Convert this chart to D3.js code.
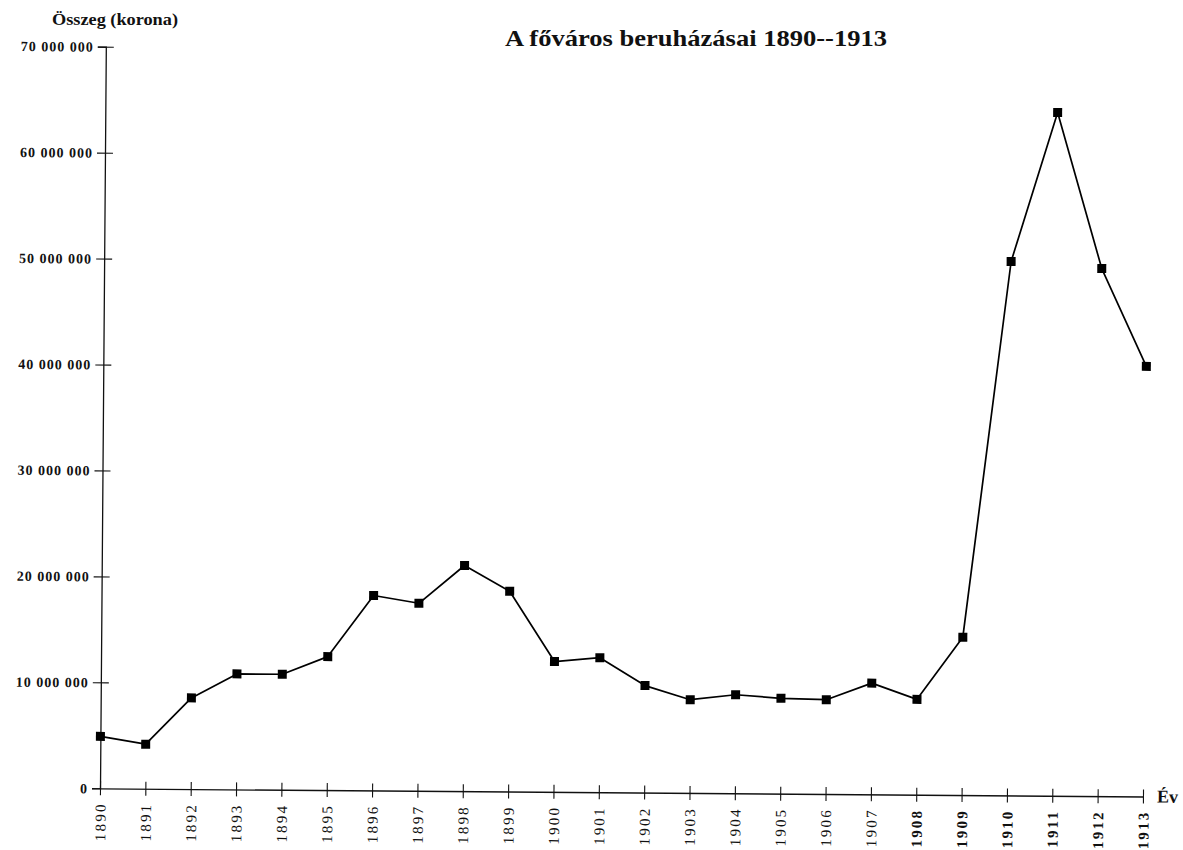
<!DOCTYPE html>
<html>
<head>
<meta charset="utf-8">
<script src="https://cdn.jsdelivr.net/npm/d3@7"></script>
<style>
  body { margin: 0; background: #fff; }
  text { font-family: "Liberation Serif", "Times New Roman", serif; fill: #111; }
</style>
</head>
<body>
<svg id="chart"></svg>
<script>
// years on the x axis
const years = [1890, 1891, 1892, 1893, 1894, 1895, 1896, 1897, 1898, 1899, 1900, 1901,
  1902, 1903, 1904, 1905, 1906, 1907, 1908, 1909, 1910, 1911, 1912, 1913];
// investment amounts in korona
const amounts = [4900000, 4200000, 8600000, 10900000, 10900000, 12600000, 18400000, 17700000,
  21300000, 18900000, 12300000, 12700000, 10100000, 8800000, 9300000, 9000000,
  8900000, 10500000, 9000000, 14900000, 50400000, 64500000, 49800000, 40600000];
// y tick values
const yTicks = [0, 10000000, 20000000, 30000000, 40000000, 50000000, 60000000, 70000000];
// years printed in bold on the scan
const boldYears = [1908, 1909, 1910, 1911, 1912, 1913];

const titleText = "A főváros beruházásai 1890--1913";
const yTitle = "Összeg (korona)";
const xTitle = "Év";

const width = 1183, height = 850;
const dims = { left: 100, right: 1143, top: 46.7, bottom: 788.3 };

const data = years.map((y, i) => ({ year: y, value: amounts[i] }));

const svg = d3.select("#chart").attr("width", width).attr("height", height);

const spaced = d3.formatLocale({ decimal: ",", thousands: " ", grouping: [3], currency: ["", ""] }).format(",d");

var xScale = d3.scaleLinear().domain([1890, 1913]).range([dims.left, dims.right]);
var yScale = d3.scaleLinear().domain([0, 70000000]).range([dims.bottom, dims.top]);

// the scanned page is a little tilted, so the plot is turned by the same small angle
const plot = svg.append("g")
  .attr("transform", "rotate(0.45," + dims.left + "," + dims.bottom + ")");

// left axis
const yAxis = plot.append("g")
  .attr("transform", "translate(" + dims.left + ",0)")
  .call(d3.axisLeft(yScale).tickValues(yTicks).tickFormat(spaced).tickSizeOuter(0).tickSize(8).tickPadding(4));
yAxis.select(".domain").attr("stroke", "#111").attr("stroke-width", 1.3);
yAxis.selectAll(".tick line").attr("x1", -8).attr("x2", (d) => (d === 0 ? 0 : 8)).attr("stroke", "#111").attr("stroke-width", 1.1);
yAxis.selectAll(".tick text")
  .style("font-size", "14px")
  .style("letter-spacing", "1px")
  .style("font-weight", "bold")
  .attr("fill", "#222");

// bottom axis
const xAxis = plot.append("g")
  .attr("transform", "translate(0," + dims.bottom + ")")
  .call(d3.axisBottom(xScale).tickValues(years).tickFormat(d3.format("d")).tickSizeOuter(0));
xAxis.select(".domain").attr("stroke", "#111").attr("stroke-width", 1.3);
xAxis.selectAll(".tick line").attr("y1", -7).attr("y2", 7).attr("stroke", "#111").attr("stroke-width", 1.1);
xAxis.selectAll(".tick text")
  .attr("transform", "rotate(-90)")
  .attr("text-anchor", "end")
  .attr("x", -14)
  .attr("y", 0)
  .attr("dy", "0.35em")
  .style("font-size", "15px")
  .style("letter-spacing", "2.2px")
  .style("font-weight", (d) => (boldYears.includes(d) ? "bold" : "normal"));

plot.append("text")
  .attr("x", dims.right + 14)
  .attr("y", dims.bottom + 6)
  .style("font-size", "18px")
  .style("font-weight", "bold")
  .text(xTitle);

// line and square markers
const line = d3.line().x((d) => xScale(d.year)).y((d) => yScale(d.value));
plot.append("path")
  .datum(data)
  .attr("fill", "none")
  .attr("stroke", "#000")
  .attr("stroke-width", 1.7)
  .attr("stroke-linejoin", "round")
  .attr("d", line);

plot.selectAll("rect.marker")
  .data(data)
  .enter()
  .append("rect")
  .attr("class", "marker")
  .attr("x", (d) => xScale(d.year) - 4.5)
  .attr("y", (d) => yScale(d.value) - 4.5)
  .attr("width", 9)
  .attr("height", 9)
  .attr("fill", "#000");

// titles
svg.append("text")
  .attr("x", 52)
  .attr("y", 25)
  .attr("textLength", 126)
  .attr("lengthAdjust", "spacingAndGlyphs")
  .style("font-size", "16px")
  .style("font-weight", "bold")
  .text(yTitle);

svg.append("text")
  .attr("x", 505)
  .attr("y", 46)
  .attr("textLength", 382)
  .attr("lengthAdjust", "spacingAndGlyphs")
  .style("font-size", "24px")
  .style("font-weight", "bold")
  .text(titleText);
</script>
</body>
</html>
